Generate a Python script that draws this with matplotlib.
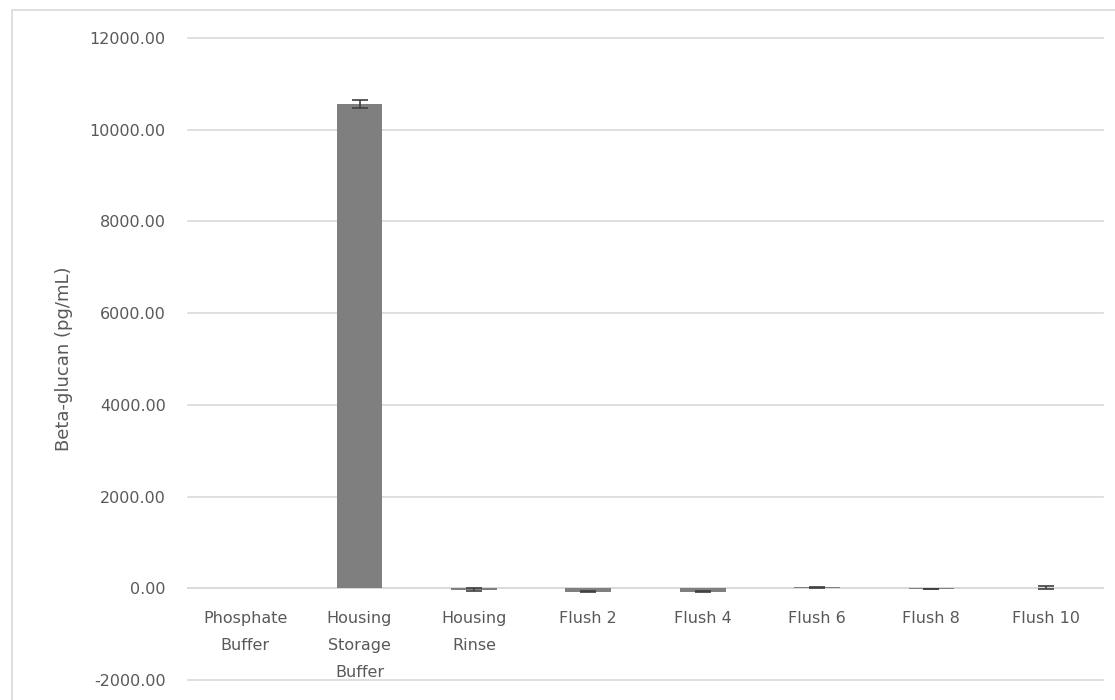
import numpy as np
import matplotlib.pyplot as plt
from matplotlib.patches import Rectangle

categories = ["Phosphate\nBuffer", "Housing\nStorage\nBuffer", "Housing\nRinse",
              "Flush 2", "Flush 4", "Flush 6", "Flush 8", "Flush 10"]
values = [0, 10560, -30, -75, -75, 20, -10, 10]
errors = [0, 90, 30, 15, 15, 5, 5, 30]
yticks = [-2000, 0, 2000, 4000, 6000, 8000, 10000, 12000]

plt.rcParams['font.family'] = ['DejaVu Sans']
txt = '#595959'

fig = plt.figure(figsize=(11.15, 7), dpi=100)
ax = fig.add_axes([188/1115, 1 - 680/700, (1103 - 188)/1115, (680 - 38)/700])

x = np.arange(len(categories))
ax.bar(x, values, width=0.4, color='#7f7f7f', zorder=3)
has_err = [i for i, e in enumerate(errors) if e > 0]
ax.errorbar([x[i] for i in has_err], [values[i] for i in has_err],
            yerr=[errors[i] for i in has_err], fmt='none', ecolor='#404040',
            elinewidth=1.2, capsize=6, capthick=1.2, zorder=4)

ax.set_xlim(-0.5, len(categories) - 0.5)
ax.set_ylim(-2000, 12000)

for s in ['top', 'right', 'left']:
    ax.spines[s].set_visible(False)
ax.spines['bottom'].set_position(('data', 0))
ax.spines['bottom'].set_color('#d9d9d9')
ax.spines['bottom'].set_linewidth(1.2)
ax.spines['bottom'].set_zorder(1)

ax.set_yticks(yticks)
ax.set_yticklabels([f"{v:.2f}" for v in yticks], color=txt, fontsize=11.5)
ax.yaxis.grid(True, color='#d9d9d9', linewidth=1.2, zorder=0)
ax.tick_params(axis='y', length=0, pad=16, labelcolor=txt)
for gl in ax.get_ygridlines():
    gl.set_clip_on(False)

ax.set_xticks(x)
ax.set_xticklabels(categories, color=txt, fontsize=11.5, linespacing=2.0, va='top')
ax.tick_params(axis='x', length=0, pad=16, labelcolor=txt)

ax.set_ylabel("Beta-glucan (pg/mL)", color=txt, fontsize=13, labelpad=12)

# chart area border
fig.patches.append(Rectangle((12/1115, -0.01), 1.0, 1 - 10/700 + 0.01,
                             transform=fig.transFigure, fill=False,
                             edgecolor='#d9d9d9', linewidth=1.2))

fig.savefig("out.png", dpi=100)
